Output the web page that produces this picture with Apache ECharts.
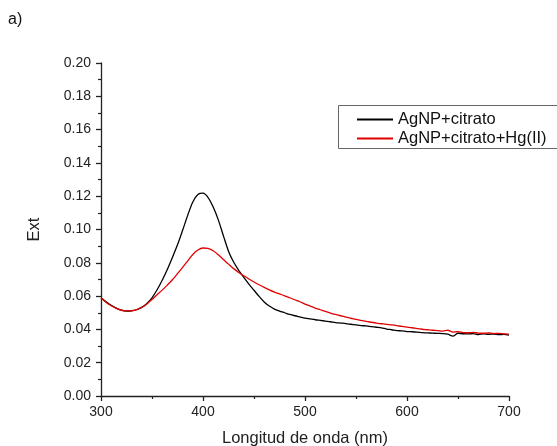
<!DOCTYPE html>
<html>
<head>
<meta charset="utf-8">
<script src="https://cdn.jsdelivr.net/npm/echarts@6/dist/echarts.min.js"></script>
<style>html,body{margin:0;padding:0;background:#fff}#c{width:557px;height:446px}</style>
</head>
<body>
<div id="c"></div>
<script>
// Wavelength grid (nm)
const wavelengths = [300,305,310,315,320,325,330,335,340,345,350,355,360,365,370,375,380,385,390,395,400,405,410,415,420,425,430,435,440,445,450,455,460,465,470,475,480,485,490,495,500,505,510,515,520,525,530,535,540,545,550,555,560,565,570,575,580,585,590,595,600,605,610,615,620,625,630,635,640,645,650,655,660,665,670,675,680,685,690,695,700];

// AgNP+citrato
const seriesBlack = [0.0590,0.0566,0.0545,0.0528,0.0516,0.0510,0.0512,0.0518,0.0532,0.0556,0.0590,0.0638,0.0695,0.0760,0.0832,0.0908,0.0995,0.1085,0.1165,0.1210,0.1218,0.1192,0.1135,0.1058,0.0962,0.0870,0.0805,0.0755,0.0713,0.0672,0.0635,0.0598,0.0565,0.0540,0.0522,0.0510,0.0500,0.0490,0.0482,0.0475,0.0468,0.0463,0.0458,0.0454,0.0450,0.0446,0.0441,0.0438,0.0435,0.0431,0.0427,0.0423,0.0421,0.0417,0.0413,0.0409,0.0402,0.0398,0.0393,0.0391,0.0387,0.0386,0.0384,0.0381,0.0379,0.0378,0.0376,0.0375,0.0371,0.0360,0.0377,0.0374,0.0373,0.0375,0.0369,0.0373,0.0371,0.0372,0.0369,0.0370,0.0366];

// AgNP+citrato+Hg(II)
const seriesRed = [0.0590,0.0562,0.0542,0.0526,0.0515,0.0511,0.0512,0.0519,0.0533,0.0553,0.0580,0.0608,0.0636,0.0666,0.0698,0.0735,0.0772,0.0812,0.0850,0.0877,0.0889,0.0886,0.0872,0.0848,0.0820,0.0792,0.0765,0.0742,0.0722,0.0703,0.0685,0.0668,0.0652,0.0637,0.0624,0.0613,0.0602,0.0590,0.0578,0.0566,0.0552,0.0540,0.0528,0.0518,0.0508,0.0498,0.0490,0.0482,0.0474,0.0467,0.0460,0.0454,0.0448,0.0443,0.0438,0.0434,0.0430,0.0427,0.0423,0.0418,0.0414,0.0410,0.0405,0.0401,0.0398,0.0395,0.0393,0.0390,0.0395,0.0384,0.0386,0.0381,0.0380,0.0382,0.0378,0.0377,0.0379,0.0375,0.0376,0.0373,0.0372];

const seriesNames = ['AgNP+citrato','AgNP+citrato+Hg(II)'];
const yTicks = ['0.00','0.02','0.04','0.06','0.08','0.10','0.12','0.14','0.16','0.18','0.20'];

const font = 'Arial, "Liberation Sans", sans-serif';
const chart = echarts.init(document.getElementById('c'), null, {renderer:'canvas'});
const toPairs = (ys) => wavelengths.map((x,i)=>[x, ys[i]]);
chart.setOption({
  animation:false,
  backgroundColor:'#fff',
  grid:{left:101, right:48, top:63, bottom:50, containLabel:false, outerBoundsMode:'none'},
  xAxis:{
    type:'value', min:300, max:700, interval:100,
    name:'Longitud de onda (nm)', nameLocation:'middle', nameGap:34,
    nameTextStyle:{fontFamily:font, fontSize:16.5, color:'#222'},
    axisLine:{show:true, onZero:false, lineStyle:{color:'#222', width:1.3}},
    axisTick:{show:true, inside:false, length:5, lineStyle:{color:'#222', width:1.3}},
    minorTick:{show:true, splitNumber:2, length:3, lineStyle:{color:'#222', width:1.2}},
    axisLabel:{fontFamily:font, fontSize:14, color:'#222', margin:9},
    splitLine:{show:false}
  },
  yAxis:{
    type:'value', min:0, max:0.2, interval:0.02,
    name:'Ext', nameLocation:'middle', nameGap:58,
    nameTextStyle:{fontFamily:font, fontSize:16.5, color:'#222'},
    axisLine:{show:true, lineStyle:{color:'#222', width:1.3}},
    axisTick:{show:true, inside:false, length:5, lineStyle:{color:'#222', width:1.3}},
    minorTick:{show:true, splitNumber:2, length:3, lineStyle:{color:'#222', width:1.2}},
    axisLabel:{fontFamily:font, fontSize:14, color:'#222', margin:10,
      formatter:(v)=> yTicks[Math.round(v/0.02)] || v.toFixed(2)},
    splitLine:{show:false}
  },
  legend:{
    show:true, orient:'vertical', left:357, top:111, padding:0,
    itemWidth:36, itemHeight:2, itemGap:2, icon:'rect',
    textStyle:{fontFamily:font, fontSize:16.5, lineHeight:16, color:'#111'},
    data:seriesNames
  },
  graphic:[
    {type:'rect', shape:{x:338.5, y:105.5, width:240, height:43}, style:{fill:'none', stroke:'#666', lineWidth:1}, z:1},
    {type:'text', left:8, top:12, style:{text:'a)', fontFamily:font, fontSize:16, fill:'#111'}}
  ],
  series:[
    {name:seriesNames[0], type:'line', data:toPairs(seriesBlack), showSymbol:false, symbol:'none', smooth:0.3,
      lineStyle:{color:'#000', width:1.3}, itemStyle:{color:'#000'}, z:2},
    {name:seriesNames[1], type:'line', data:toPairs(seriesRed), showSymbol:false, symbol:'none', smooth:0.3,
      lineStyle:{color:'#e00000', width:1.3}, itemStyle:{color:'#e00000'}, z:3}
  ]
});
</script>
</body>
</html>
